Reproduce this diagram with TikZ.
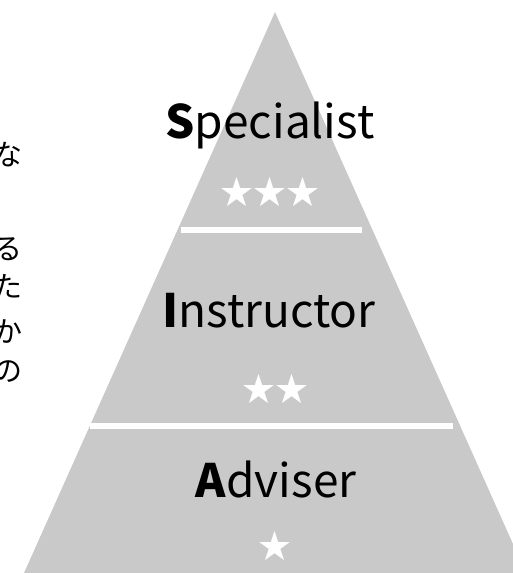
\documentclass[tikz,border=0pt]{standalone}
\usepackage{fontspec}
\setmainfont{Noto Sans CJK JP}
\usepackage{tikz}

\definecolor{pyramidgray}{HTML}{C9C9C9}

\begin{document}
\begin{tikzpicture}[x=1pt, y=-1pt,
    level/.style={font=\fontsize{46}{50}\selectfont, anchor=base, inner sep=0pt},
    rank/.style={font=\fontsize{33}{36}\selectfont, text=white, inner sep=0pt},
    jptext/.style={font=\fontsize{29}{32}\selectfont, anchor=east, inner sep=0pt}]
    \useasboundingbox (0, 0) rectangle (513, 573);
    \clip (0, 0) rectangle (513, 573);

    % Pyramid
    \fill[pyramidgray] (275, 12) -- (526, 573) -- (24, 573) -- cycle;

    % Dividers
    \fill[white] (181, 227) rectangle (362, 233);
    \fill[white] (90, 423) rectangle (453, 429);

    % Levels
    \node[level] (spec) at (270, 138) {\textbf{S}pecialist};
    \node[rank] (stars3) at (270, 192) {★★★};

    \node[level] (instr) at (269, 327) {\textbf{I}nstructor};
    \node[rank] (stars2) at (275, 389) {★★};

    \node[level] (adv) at (276, 497) {\textbf{A}dviser};
    \node[rank] (stars1) at (275, 546) {★};

    % Line ends of the text on the left
    \node[jptext] (jp1) at (23, 155) {な};
    \node[jptext] (jp2) at (23, 249) {る};
    \node[jptext] (jp3) at (23, 286) {た};
    \node[jptext] (jp4) at (23, 331) {か};
    \node[jptext] (jp5) at (23, 372) {の};
\end{tikzpicture}
\end{document}
